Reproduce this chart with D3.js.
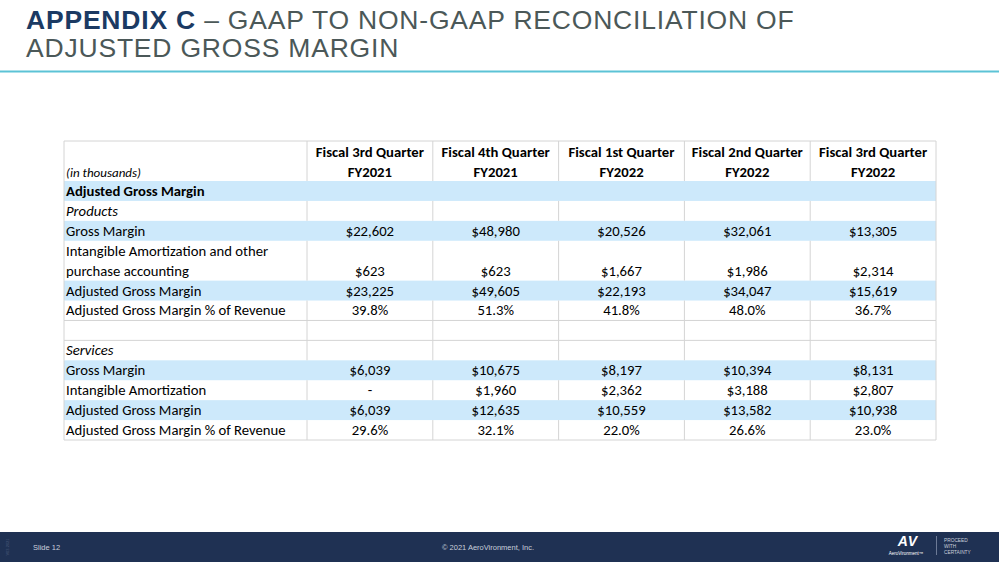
<!DOCTYPE html>
<html>
<head>
<meta charset="utf-8">
<script src="https://cdn.jsdelivr.net/npm/d3@7"></script>
<style>
  html, body { margin: 0; padding: 0; background: #ffffff; }
  svg { display: block; }
</style>
</head>
<body>
<svg id="chart" width="999" height="562"></svg>
<script>
// ---------- DATA ----------
const quarterLabels = ["Fiscal 3rd Quarter", "Fiscal 4th Quarter", "Fiscal 1st Quarter", "Fiscal 2nd Quarter", "Fiscal 3rd Quarter"];
const fiscalYears = ["FY2021", "FY2021", "FY2022", "FY2022", "FY2022"];

const productsGrossMargin = [22602, 48980, 20526, 32061, 13305];
const productsAmortization = [623, 623, 1667, 1986, 2314];
const productsAdjustedGM = [23225, 49605, 22193, 34047, 15619];
const productsAdjustedPct = [39.8, 51.3, 41.8, 48.0, 36.7];

const servicesGrossMargin = [6039, 10675, 8197, 10394, 8131];
const servicesAmortization = [null, 1960, 2362, 3188, 2807];
const servicesAdjustedGM = [6039, 12635, 10559, 13582, 10938];
const servicesAdjustedPct = [29.6, 32.1, 22.0, 26.6, 23.0];

const titleBold = "APPENDIX C";
const titleRest = " \u2013 GAAP TO NON-GAAP RECONCILIATION OF";
const titleLine2 = "ADJUSTED GROSS MARGIN";

// ---------- SETUP ----------
const svg = d3.select("#chart");
const FONT = "Carlito, Lato, 'Open Sans', sans-serif";
const money = v => v == null ? "-" : d3.format("$,")(v);
const pct = v => d3.format(".1f")(v) + "%";

const rows = [
  { label: "Adjusted Gross Margin", style: "bold", shade: true, units: 1 },
  { label: "Products", style: "italic", shade: false, units: 1, empty: true },
  { label: "Gross Margin", values: productsGrossMargin, fmt: money, shade: true, units: 1 },
  { label: ["Intangible Amortization and other", "purchase accounting"], values: productsAmortization, fmt: money, shade: false, units: 2 },
  { label: "Adjusted Gross Margin", values: productsAdjustedGM, fmt: money, shade: true, units: 1 },
  { label: "Adjusted Gross Margin % of Revenue", values: productsAdjustedPct, fmt: pct, shade: false, units: 1 },
  { label: "", shade: false, units: 1, empty: true },
  { label: "Services", style: "italic", shade: false, units: 1, empty: true },
  { label: "Gross Margin", values: servicesGrossMargin, fmt: money, shade: true, units: 1 },
  { label: "Intangible Amortization", values: servicesAmortization, fmt: money, shade: false, units: 1 },
  { label: "Adjusted Gross Margin", values: servicesAdjustedGM, fmt: money, shade: true, units: 1 },
  { label: "Adjusted Gross Margin % of Revenue", values: servicesAdjustedPct, fmt: pct, shade: false, units: 1 }
];

// geometry
const tableLeft = 64, labelRight = 307, tableRight = 936;
const headerTop = 141, bodyTop = 181, bodyBottom = 440;
const totalUnits = d3.sum(rows, r => r.units);
const unitScale = d3.scaleLinear().domain([0, totalUnits]).range([bodyTop, bodyBottom]);
let acc = 0;
rows.forEach(r => { r.u0 = acc; acc += r.units; r.u1 = acc; r.y0 = unitScale(r.u0); r.y1 = unitScale(r.u1); });

const x = d3.scaleBand().domain(d3.range(quarterLabels.length)).range([labelRight, tableRight]).padding(0);

// ---------- TITLE ----------
const TFONT = "'Liberation Sans', Arial, sans-serif";
const title = svg.append("text").attr("x", 26).attr("y", 28.5)
  .style("font-family", TFONT).style("font-size", "26.5px").style("letter-spacing", "0.8px");
title.append("tspan").text(titleBold).attr("font-weight", "bold").attr("fill", "#1b3a63");
title.append("tspan").text(titleRest).attr("fill", "#4b5858");
svg.append("text").attr("x", 26).attr("y", 57)
  .style("font-family", TFONT).style("font-size", "26.5px").style("letter-spacing", "0.8px")
  .attr("fill", "#4b5858").text(titleLine2);
svg.append("rect").attr("x", 0).attr("y", 70.5).attr("width", 999).attr("height", 2).attr("fill", "#5cc3d6");

// ---------- TABLE ----------
const grid = "#d4d4d4";
const g = svg.append("g").style("font-family", FONT).style("font-size", "14.7px").attr("fill", "#000");

// shaded bands
g.selectAll("rect.band").data(rows.filter(r => r.shade)).join("rect")
  .attr("class", "band")
  .attr("x", tableLeft).attr("y", d => d.y0)
  .attr("width", tableRight - tableLeft).attr("height", d => d.y1 - d.y0)
  .attr("fill", "#cde9fb");

// horizontal grid lines (only between unshaded edges)
const hLines = [headerTop];
rows.forEach((r, i) => {
  const prev = rows[i - 1];
  if (!r.shade && (!prev || !prev.shade)) hLines.push(r.y0);
});
hLines.push(bodyBottom);
g.selectAll("line.h").data(hLines).join("line")
  .attr("x1", tableLeft).attr("x2", tableRight)
  .attr("y1", d => d).attr("y2", d => d)
  .attr("stroke", grid).attr("stroke-width", 1);

// vertical grid lines: header + unshaded rows
const vx = [tableLeft, ...d3.range(quarterLabels.length).map(i => x(i)), tableRight];
const segs = [{ y0: headerTop, y1: bodyTop }];
rows.forEach(r => { if (!r.shade) segs.push({ y0: r.y0, y1: r.y1 }); });
segs.forEach(s => {
  g.selectAll(null).data(vx).join("line")
    .attr("x1", d => d).attr("x2", d => d)
    .attr("y1", s.y0).attr("y2", s.y1)
    .attr("stroke", grid).attr("stroke-width", 1);
});
rows.filter(r => r.shade).forEach(r => {
  [tableLeft, tableRight].forEach(xx => g.append("line").attr("x1", xx).attr("x2", xx)
    .attr("y1", r.y0).attr("y2", r.y1).attr("stroke", grid));
});

// header
g.append("text").attr("x", 66).attr("y", 177).style("font-style", "italic").style("font-size", "13px").text("(in thousands)");
const hdr = g.selectAll("g.hdr").data(quarterLabels).join("g").attr("class", "hdr");
hdr.append("text").attr("x", (d, i) => x(i) + x.bandwidth() / 2).attr("y", 157)
  .attr("text-anchor", "middle").attr("font-weight", "bold").text(d => d);
hdr.append("text").attr("x", (d, i) => x(i) + x.bandwidth() / 2).attr("y", 177)
  .attr("text-anchor", "middle").attr("font-weight", "bold").text((d, i) => fiscalYears[i]);

// body rows
rows.forEach(r => {
  const base = r.y1 - 5;
  const labels = Array.isArray(r.label) ? r.label : [r.label];
  labels.forEach((lab, k) => {
    g.append("text").attr("x", 66)
      .attr("y", base - (labels.length - 1 - k) * (r.y1 - r.y0) / r.units)
      .attr("font-weight", r.style === "bold" ? "bold" : null)
      .style("font-style", r.style === "italic" ? "italic" : null)
      .text(lab);
  });
  if (r.values) {
    g.selectAll(null).data(r.values).join("text")
      .attr("x", (d, i) => x(i) + x.bandwidth() / 2)
      .attr("y", base)
      .attr("text-anchor", "middle")
      .text(d => r.fmt(d));
  }
});

// ---------- FOOTER ----------
svg.append("rect").attr("x", 0).attr("y", 532).attr("width", 999).attr("height", 30).attr("fill", "#1f3153");
svg.append("text").attr("transform", "translate(9,547) rotate(-90)")
  .attr("text-anchor", "middle").attr("fill", "#4a5a7a")
  .style("font-family", TFONT).style("font-size", "4px").text("V03.2021");
const foot = svg.append("g").style("font-family", TFONT).attr("fill", "#c9cfdb");
foot.append("text").attr("x", 33).attr("y", 550).style("font-size", "7.5px").text("Slide 12");
foot.append("text").attr("x", 488).attr("y", 550).attr("text-anchor", "middle").style("font-size", "7.5px").text("\u00A9 2021 AeroVironment, Inc.");
// logo
svg.append("text").attr("x", 908).attr("y", 546).attr("text-anchor", "middle")
  .style("font-family", TFONT).style("font-size", "14px").style("letter-spacing", "1px")
  .style("font-weight", "bold").style("font-style", "italic").attr("fill", "#ffffff").text("AV");
svg.append("text").attr("x", 906).attr("y", 554.5).attr("text-anchor", "middle")
  .style("font-family", TFONT).style("font-size", "4.5px")
  .attr("fill", "#ffffff").text("AeroVironment\u2122");
svg.append("line").attr("x1", 936.5).attr("x2", 936.5).attr("y1", 536).attr("y2", 555).attr("stroke", "#6c7a96");
["PROCEED", "WITH", "CERTAINTY"].forEach((t, i) => {
  svg.append("text").attr("x", 944).attr("y", 542 + i * 6)
    .style("font-family", TFONT).style("font-size", "4.8px")
    .attr("fill", "#c9cfdb").text(t);
});
</script>
</body>
</html>
